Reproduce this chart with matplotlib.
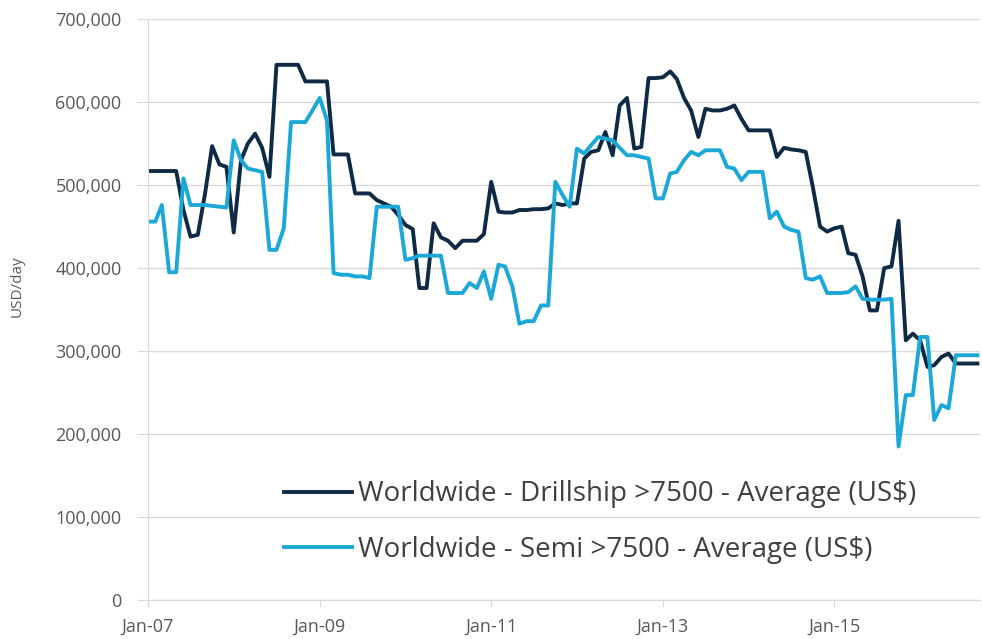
import matplotlib.pyplot as plt
import matplotlib.dates as mdates
import matplotlib.ticker as mticker
import pandas as pd

months = pd.date_range('2007-01-01', periods=117, freq='MS')
tick_dates = pd.date_range('2007-01-01', periods=5, freq='24MS')

# average day rates, USD thousands per day
drillship = [517, 517, 517, 517, 517, 470, 438, 440, 490, 547,
             525, 522, 443, 530, 550, 562, 545, 510, 645, 645,
             645, 645, 625, 625, 625, 625, 537, 537, 537, 490,
             490, 490, 482, 478, 474, 464, 452, 447, 376, 376,
             454, 437, 433, 424, 433, 433, 433, 441, 504, 468,
             467, 467, 470, 470, 471, 471, 472, 478, 476, 478,
             478, 532, 540, 542, 564, 536, 596, 605, 544, 546,
             629, 629, 630, 637, 628, 605, 590, 558, 592, 590,
             590, 592, 596, 580, 566, 566, 566, 566, 534, 545,
             543, 542, 540, 498, 450, 444, 448, 450, 418, 416,
             390, 349, 349, 400, 402, 457, 313, 321, 313, 281,
             283, 293, 297, 285, 285, 285, 285]

semi = [456, 456, 476, 395, 395, 508, 476, 476, 476, 475,
        474, 473, 554, 530, 520, 518, 516, 422, 422, 448,
        576, 576, 576, 590, 605, 578, 394, 392, 392, 390,
        390, 388, 474, 474, 474, 474, 410, 412, 415, 415,
        415, 415, 370, 370, 370, 382, 376, 396, 363, 404,
        402, 378, 333, 336, 336, 355, 355, 504, 488, 474,
        544, 538, 548, 558, 556, 554, 545, 536, 536, 534,
        532, 484, 484, 514, 516, 530, 540, 536, 542, 542,
        542, 522, 520, 506, 516, 516, 516, 460, 468, 450,
        446, 444, 388, 386, 390, 370, 370, 370, 371, 378,
        363, 362, 362, 362, 363, 185, 247, 247, 317, 317,
        217, 235, 231, 295, 295, 295, 295]

drill_usd = [v * 1000 for v in drillship]
semi_usd = [v * 1000 for v in semi]

plt.rcParams['font.family'] = ['Open Sans', 'DejaVu Sans']

fig = plt.figure(figsize=(9.82, 6.39), dpi=100)
ax = fig.add_axes([0.1507, 0.061, 0.8473, 0.909])

ax.plot(months, drill_usd, color='#0f2a44', lw=2.8, label='Worldwide - Drillship >7500 - Average (US$)')
ax.plot(months, semi_usd, color='#1ba8d8', lw=2.8, label='Worldwide - Semi >7500 - Average (US$)')

ax.set_ylim(0, 700000)
ax.set_xlim(pd.Timestamp('2007-01-01'), pd.Timestamp('2016-09-12'))
ax.yaxis.set_major_locator(mticker.MultipleLocator(100000))
ax.yaxis.set_major_formatter(mticker.FuncFormatter(lambda v, p: f'{int(v):,}'))
ax.set_xticks(tick_dates)
ax.xaxis.set_major_formatter(mdates.DateFormatter('%b-%y'))

ax.grid(axis='y', color='#d9d9d9', lw=1)
ax.set_axisbelow(True)
for s in ['top', 'right']:
    ax.spines[s].set_visible(False)
ax.spines['left'].set_color('#d9d9d9')
ax.spines['bottom'].set_color('#d9d9d9')
ax.tick_params(axis='y', length=8, color='#d9d9d9', labelsize=13, labelcolor='#595959', pad=11)
ax.tick_params(axis='x', length=5, color='#d9d9d9', labelsize=13, labelcolor='#595959', pad=8)

ax.set_ylabel('USD/day', fontsize=11, color='#595959')
ax.yaxis.set_label_coords(-0.148, 0.54)

ax.legend(loc='upper left', bbox_to_anchor=(0.15, 0.225), frameon=False,
          fontsize=20, handlelength=2.45, handletextpad=0.2, labelspacing=1.0,
          borderaxespad=0, labelcolor='#404040')

plt.savefig('out.png', dpi=100)
